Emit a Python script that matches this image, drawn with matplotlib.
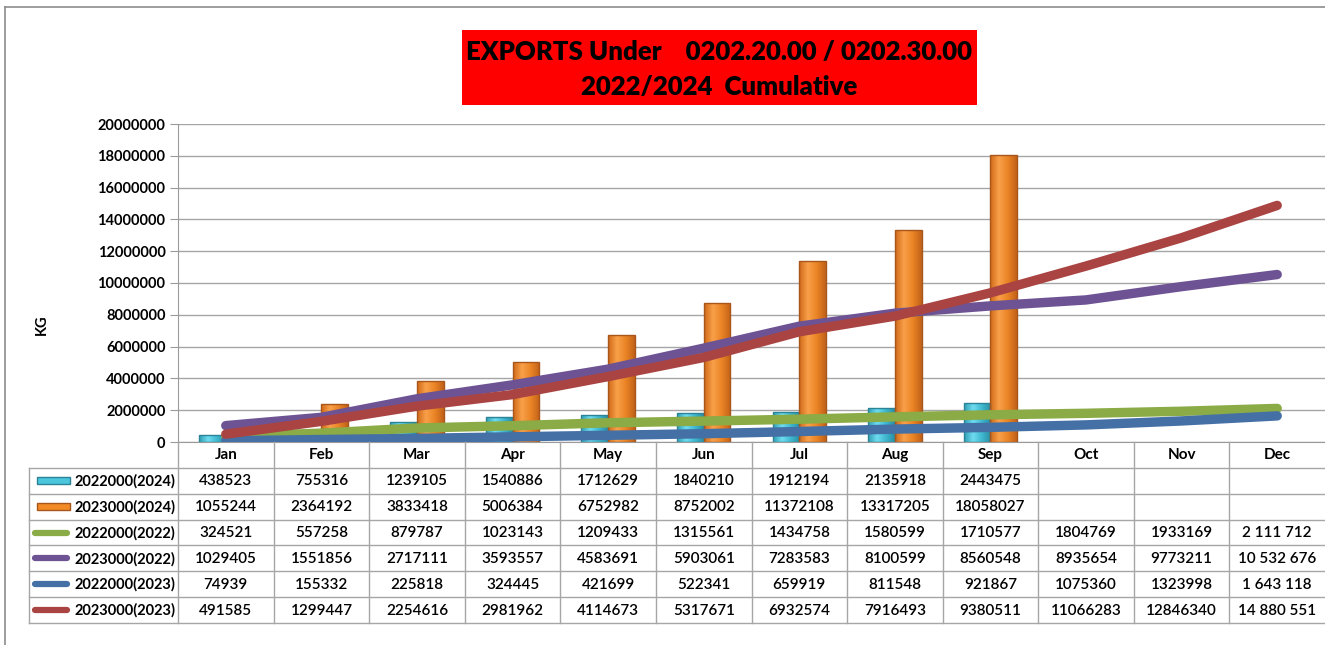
import numpy as np
import matplotlib
matplotlib.use("Agg")
import matplotlib.pyplot as plt
from matplotlib.patches import Rectangle
from matplotlib.lines import Line2D

# ---------------- data ----------------
months = ["Jan", "Feb", "Mar", "Apr", "May", "Jun", "Jul", "Aug", "Sep", "Oct", "Nov", "Dec"]
bar_2022000_2024 = [438523, 755316, 1239105, 1540886, 1712629, 1840210, 1912194, 2135918, 2443475]
bar_2023000_2024 = [1055244, 2364192, 3833418, 5006384, 6752982, 8752002, 11372108, 13317205, 18058027]
line_2022000_2022 = [324521, 557258, 879787, 1023143, 1209433, 1315561, 1434758, 1580599, 1710577, 1804769, 1933169, 2111712]
line_2023000_2022 = [1029405, 1551856, 2717111, 3593557, 4583691, 5903061, 7283583, 8100599, 8560548, 8935654, 9773211, 10532676]
line_2022000_2023 = [74939, 155332, 225818, 324445, 421699, 522341, 659919, 811548, 921867, 1075360, 1323998, 1643118]
line_2023000_2023 = [491585, 1299447, 2254616, 2981962, 4114673, 5317671, 6932574, 7916493, 9380511, 11066283, 12846340, 14880551]
series_names = ["2022000(2024)", "2023000(2024)", "2022000(2022)", "2023000(2022)", "2022000(2023)", "2023000(2023)"]
yticks = [0, 2000000, 4000000, 6000000, 8000000, 10000000, 12000000, 14000000, 16000000, 18000000, 20000000]
title_lines = ["EXPORTS Under    0202.20.00 / 0202.30.00", "2022/2024  Cumulative"]
ylabel = "KG"

FONT = ["Lato", "DejaVu Sans"]
plt.rcParams["font.family"] = FONT

W, H = 1325, 645
fig = plt.figure(figsize=(W / 100, H / 100), dpi=100)

def fx(px):
    return px / W

def fy(py):
    return 1 - py / H

# plot area
L, R, T, B = 178, 1325, 124, 442
ax = fig.add_axes([fx(L), fy(B), fx(R) - fx(L), fy(T) - fy(B)])
ax.set_xlim(-0.5, 11.5)
ax.set_ylim(0, 20000000)
for s in ["top", "right"]:
    ax.spines[s].set_visible(False)
ax.spines["left"].set_color("#9a9a9a")
ax.spines["bottom"].set_color("#9a9a9a")
ax.set_yticks(yticks)
ax.set_yticklabels([str(v) for v in yticks], fontsize=10.5, fontweight="bold")
ax.tick_params(axis="y", length=6, color="#9a9a9a", pad=3)
ax.set_xticks([])
ax.yaxis.grid(True, color="#a6a6a6", lw=1)
ax.set_axisbelow(True)

# bars with gradient
x9 = np.arange(len(bar_2022000_2024))
bw = 0.28

def grad_bars(bars, cols):
    cmap = matplotlib.colors.LinearSegmentedColormap.from_list("g", cols)
    grad = np.linspace(0, 1, 64).reshape(1, -1)
    for b in bars:
        x0, y0 = b.get_x(), b.get_y()
        w, h = b.get_width(), b.get_height()
        im = ax.imshow(grad, cmap=cmap, extent=[x0, x0 + w, y0, y0 + h],
                       aspect="auto", zorder=2, interpolation="bicubic")
        im.set_clip_path(b)

b1 = ax.bar(x9 - bw / 2, bar_2022000_2024, width=bw, color="#4bc6dc",
            edgecolor="#2b8397", lw=1, zorder=2.1)
b2 = ax.bar(x9 + bw / 2, bar_2023000_2024, width=bw, color="#f28a26",
            edgecolor="#a9561a", lw=1, zorder=2.1)
for b in list(b1) + list(b2):
    b.set_facecolor("none")
grad_bars(b1, ["#2f9db3", "#6fdcf0", "#3fb8cf", "#2a8ea3"])
grad_bars(b2, ["#d06a18", "#f9a04a", "#ea8425", "#c2621a"])

x12 = np.arange(len(months))
lw = 6.8
ax.plot(x12, line_2022000_2022, color="#8aab45", lw=lw, solid_capstyle="round", solid_joinstyle="round", zorder=3)
ax.plot(x12, line_2023000_2022, color="#6d5393", lw=lw, solid_capstyle="round", solid_joinstyle="round", zorder=3.1)
ax.plot(x12, line_2022000_2023, color="#4470a6", lw=lw, solid_capstyle="round", solid_joinstyle="round", zorder=3.2)
ax.plot(x12, line_2023000_2023, color="#a94442", lw=lw, solid_capstyle="round", solid_joinstyle="round", zorder=3.3)

# ---------------- data table ----------------
TL, TB = 29, 623
ppu = (R - L) / 12.0
tab = fig.add_axes([fx(TL), fy(TB), fx(R) - fx(TL), fy(B) - fy(TB)])
tab.set_xlim(-0.5 - (L - TL) / ppu, 11.5)
tab.set_ylim(7, 0)
tab.axis("off")
gc = "#a6a6a6"
xl = -0.5 - (L - TL) / ppu
for r in range(1, 8):
    tab.plot([xl, 11.5], [r, r], color=gc, lw=1, clip_on=False)
tab.plot([xl, xl], [1, 7], color=gc, lw=1, clip_on=False)
for c in range(12):
    tab.plot([c - 0.5, c - 0.5], [0, 7], color=gc, lw=1, clip_on=False)

for c, m in enumerate(months):
    tab.text(c, 0.52, m, ha="center", va="center", fontsize=11, fontweight="bold")

rows = [bar_2022000_2024, bar_2023000_2024, line_2022000_2022,
        line_2023000_2022, line_2022000_2023, line_2023000_2023]
for r, vals in enumerate(rows):
    for c, v in enumerate(vals):
        s = f"{v:,}".replace(",", " ") if c == 11 else str(v)
        tab.text(c, r + 1.52, s, ha="center", va="center", fontsize=11,
                 fontweight="semibold")

# legend keys
sw0 = xl + 3 / ppu
sw1 = xl + 41 / ppu
lab_x = xl + 146 / ppu
sty = [("bar", "#4bc6dc", "#2b8397"), ("bar", "#f28a26", "#a9561a"),
       ("line", "#8aab45", None), ("line", "#6d5393", None),
       ("line", "#4470a6", None), ("line", "#a94442", None)]
for r, (kind, col, ec) in enumerate(sty):
    yc = r + 1.5
    if kind == "bar":
        tab.add_patch(Rectangle((sw0 + 0.05, yc - 0.13), sw1 - sw0 - 0.05, 0.26, facecolor=col,
                                edgecolor=ec, lw=1, clip_on=False))
    else:
        tab.plot([sw0 + 0.03, sw1 - 0.03], [yc, yc], color=col, lw=4.5,
                 solid_capstyle="round", clip_on=False)
    tab.text(lab_x, yc + 0.02, series_names[r], ha="right", va="center", fontsize=10.5,
             fontweight="bold")

# ---------------- title, labels, border ----------------
fig.patches.append(Rectangle((fx(462), fy(105)), fx(977) - fx(462), fy(30) - fy(105),
                             transform=fig.transFigure, facecolor="#ff0000",
                             edgecolor="none", zorder=0))
fig.text(fx(719.5), fy(52), title_lines[0], ha="center", va="center",
         fontsize=18.5, fontweight="heavy")
fig.text(fx(719.5), fy(87), title_lines[1], ha="center", va="center",
         fontsize=18.5, fontweight="heavy")
fig.text(fx(42), fy(325), ylabel, ha="center", va="center", rotation=90,
         fontsize=10.5, fontweight="bold")

fig.add_artist(Line2D([fx(5), fx(5)], [0, fy(7)], color="#8c8c8c", lw=1.2))
fig.add_artist(Line2D([fx(5), 1], [fy(7), fy(7)], color="#8c8c8c", lw=1.2))

fig.savefig("out.png", dpi=100)
